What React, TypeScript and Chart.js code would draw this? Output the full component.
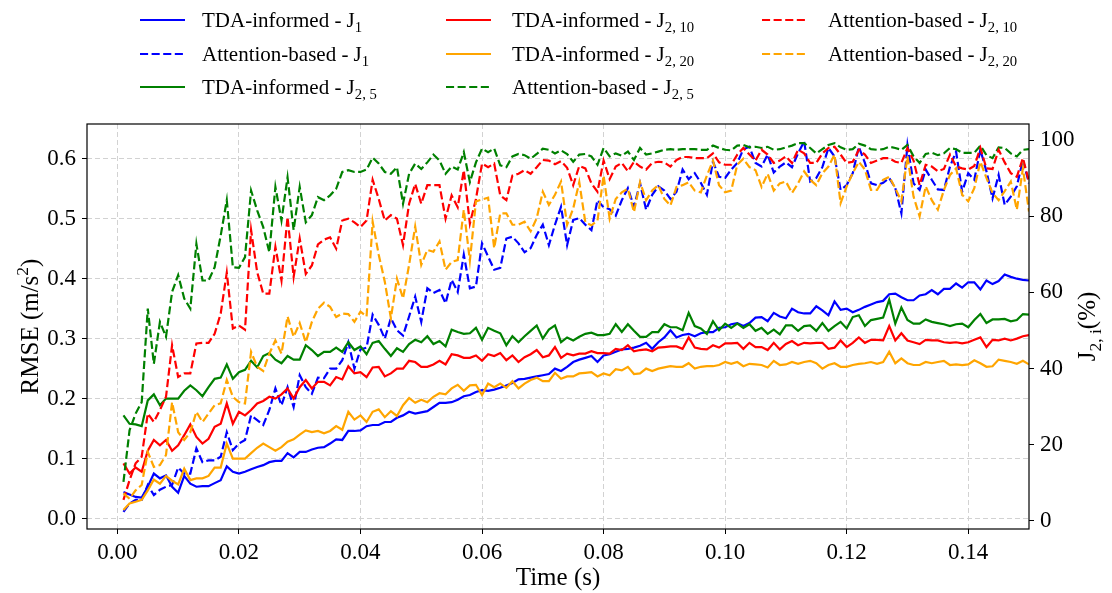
import React, { useEffect, useRef } from "react";
import { Chart, registerables } from "chart.js";

Chart.register(...registerables);

const FONT = '"Liberation Serif", "Times New Roman", serif';

// time axis: one sample per millisecond, 0.001 s … 0.150 s
const TIME_STEP = 0.001;
const N_POINTS = 150;
const TIME = Array.from({ length: N_POINTS }, (_, i) => +((i + 1) * TIME_STEP).toFixed(3));

const X_TICKS = [0, 0.02, 0.04, 0.06, 0.08, 0.1, 0.12, 0.14];
const Y_LEFT_TICKS = [0, 0.1, 0.2, 0.3, 0.4, 0.5, 0.6];
const Y_RIGHT_TICKS = [0, 20, 40, 60, 80, 100];

// RMSE (m/s^2)
const TDA_J1 = [
  0.044, 0.040, 0.036, 0.035, 0.053, 0.075, 0.067, 0.072, 0.053, 0.043, 0.071, 0.058, 0.053, 0.054, 0.054, 0.059, 0.064, 0.087, 0.078, 0.075,
  0.078, 0.082, 0.086, 0.089, 0.094, 0.096, 0.096, 0.109, 0.102, 0.111, 0.111, 0.115, 0.118, 0.119,
  0.125, 0.132, 0.131, 0.146, 0.146, 0.147, 0.154, 0.156, 0.156, 0.161, 0.161, 0.168, 0.172, 0.178, 0.175, 0.177, 0.179, 0.186, 0.193, 0.193,
  0.194, 0.198, 0.204, 0.206, 0.211, 0.214, 0.213, 0.215, 0.218, 0.222, 0.226, 0.232, 0.233, 0.235, 0.237,
  0.239, 0.241, 0.250, 0.246, 0.253, 0.261, 0.265, 0.268, 0.271, 0.261, 0.272, 0.274, 0.278, 0.282, 0.283, 0.285, 0.288, 0.293, 0.283, 0.294,
  0.302, 0.314, 0.302, 0.306, 0.308, 0.304, 0.309, 0.311, 0.311, 0.318, 0.319, 0.324, 0.326, 0.321, 0.326, 0.335, 0.336, 0.329, 0.343,
  0.337, 0.334, 0.350, 0.344, 0.342, 0.342, 0.354, 0.347, 0.339, 0.362, 0.348, 0.350, 0.344, 0.348, 0.353, 0.357, 0.361, 0.363, 0.374, 0.375,
  0.369, 0.364, 0.364, 0.372, 0.374, 0.381, 0.374, 0.383, 0.383, 0.392, 0.385, 0.394, 0.394, 0.382, 0.397, 0.391, 0.396, 0.407, 0.403, 0.400,
  0.398, 0.397,
];

const ATT_J1 = [
  0.011, 0.025, 0.031, 0.031, 0.056, 0.039, 0.048, 0.053, 0.056, 0.085, 0.075, 0.075, 0.117, 0.094, 0.097, 0.097, 0.103, 0.144, 0.114, 0.125,
  0.131, 0.172, 0.164, 0.156, 0.181, 0.217, 0.189, 0.219, 0.186, 0.239, 0.219, 0.208, 0.235, 0.234,
  0.250, 0.250, 0.264, 0.294, 0.250, 0.282,
  0.285, 0.340, 0.323, 0.300, 0.334, 0.314, 0.305, 0.337, 0.370, 0.328, 0.384, 0.376, 0.381, 0.359, 0.398, 0.378, 0.440, 0.384, 0.387, 0.459,
  0.437, 0.415, 0.418, 0.467, 0.470, 0.459, 0.444, 0.451, 0.473, 0.490, 0.456, 0.490, 0.520, 0.456,
  0.498, 0.501, 0.490, 0.481, 0.531, 0.519, 0.516, 0.505, 0.531, 0.551, 0.520, 0.559, 0.515, 0.540, 0.554, 0.547, 0.533, 0.545, 0.582, 0.566,
  0.576, 0.560, 0.540, 0.595, 0.570, 0.568, 0.582, 0.593, 0.616, 0.620, 0.593, 0.587, 0.607, 0.577, 0.587, 0.594, 0.586,
  0.609, 0.629, 0.562, 0.568, 0.586, 0.618, 0.604, 0.548, 0.556, 0.576, 0.620, 0.593, 0.559, 0.556, 0.560, 0.568, 0.551, 0.509, 0.623, 0.559,
  0.548, 0.582, 0.565, 0.549, 0.548, 0.587, 0.612, 0.545, 0.576, 0.565, 0.615, 0.579, 0.534, 0.573, 0.523, 0.537, 0.554, 0.598, 0.559,
];

const TDA_J25 = [
  0.172, 0.158, 0.157, 0.154, 0.197, 0.207, 0.189, 0.200, 0.200, 0.200, 0.213, 0.222, 0.214, 0.204, 0.219, 0.233, 0.235, 0.257, 0.233, 0.244,
  0.248, 0.263, 0.252, 0.271, 0.276, 0.265, 0.259, 0.271, 0.265, 0.265, 0.289, 0.281, 0.271, 0.278,
  0.278, 0.285, 0.278, 0.294, 0.281, 0.287, 0.274, 0.293, 0.296, 0.283, 0.271, 0.284, 0.278, 0.291, 0.298, 0.294, 0.304, 0.291, 0.296, 0.287,
  0.315, 0.311, 0.308, 0.309, 0.318, 0.298, 0.318, 0.313, 0.309, 0.289, 0.304, 0.294, 0.304, 0.313, 0.322,
  0.300, 0.315, 0.322, 0.294, 0.302, 0.297, 0.303, 0.308, 0.310, 0.306, 0.306, 0.308, 0.324, 0.311, 0.324, 0.313, 0.303, 0.303, 0.311, 0.311,
  0.324, 0.319, 0.319, 0.314, 0.343, 0.321, 0.317, 0.308, 0.329, 0.314, 0.325, 0.318, 0.325, 0.318, 0.324, 0.313, 0.318, 0.308, 0.315,
  0.307, 0.322, 0.322, 0.313, 0.321, 0.322, 0.313, 0.326, 0.313, 0.321, 0.328, 0.317, 0.336, 0.339, 0.321, 0.331, 0.333, 0.335, 0.365, 0.325,
  0.352, 0.331, 0.325, 0.325, 0.332, 0.328, 0.326, 0.324, 0.321, 0.324, 0.325, 0.319, 0.331, 0.341, 0.326, 0.332, 0.332, 0.333, 0.329, 0.331,
  0.341, 0.340,
];

const TDA_J210 = [
  0.092, 0.075, 0.085, 0.078, 0.113, 0.131, 0.122, 0.131, 0.113, 0.122, 0.139, 0.157, 0.136, 0.125, 0.133, 0.153, 0.158, 0.192, 0.158, 0.178,
  0.172, 0.181, 0.192, 0.196, 0.203, 0.200, 0.207, 0.217, 0.200, 0.219, 0.231, 0.217, 0.228, 0.228,
  0.222, 0.236, 0.232, 0.254, 0.242, 0.244, 0.236, 0.252, 0.253, 0.237, 0.242, 0.250, 0.250, 0.263, 0.261, 0.253, 0.253, 0.257, 0.263, 0.257,
  0.274, 0.272, 0.268, 0.268, 0.272, 0.263, 0.274, 0.271, 0.276, 0.264, 0.272, 0.261, 0.269, 0.274, 0.281,
  0.269, 0.272, 0.286, 0.268, 0.275, 0.272, 0.275, 0.275, 0.279, 0.276, 0.276, 0.275, 0.283, 0.281, 0.289, 0.279, 0.281, 0.282, 0.279, 0.285,
  0.286, 0.287, 0.287, 0.283, 0.302, 0.285, 0.283, 0.282, 0.289, 0.285, 0.292, 0.292, 0.293, 0.283, 0.293, 0.286, 0.286, 0.281, 0.293,
  0.282, 0.291, 0.296, 0.289, 0.293, 0.292, 0.293, 0.293, 0.283, 0.285, 0.297, 0.286, 0.293, 0.302, 0.293, 0.298, 0.298, 0.297, 0.321, 0.297,
  0.309, 0.297, 0.294, 0.291, 0.298, 0.297, 0.297, 0.294, 0.293, 0.294, 0.292, 0.294, 0.298, 0.302, 0.286, 0.298, 0.297, 0.300, 0.297, 0.300,
  0.304, 0.306,
];

const TDA_J220 = [
  0.014, 0.025, 0.028, 0.031, 0.047, 0.065, 0.058, 0.071, 0.063, 0.057, 0.083, 0.064, 0.067, 0.067, 0.071, 0.085, 0.085, 0.125, 0.100, 0.100,
  0.100, 0.109, 0.118, 0.125, 0.119, 0.113, 0.119, 0.128, 0.132, 0.140, 0.147, 0.144, 0.146, 0.142,
  0.146, 0.154, 0.148, 0.178, 0.165, 0.172, 0.161, 0.178, 0.182, 0.169, 0.179, 0.171, 0.189, 0.201, 0.193, 0.198, 0.194, 0.203, 0.209, 0.207,
  0.217, 0.223, 0.213, 0.222, 0.223, 0.206, 0.225, 0.219, 0.225, 0.218, 0.229, 0.217, 0.225, 0.231, 0.235,
  0.229, 0.229, 0.243, 0.233, 0.237, 0.237, 0.242, 0.243, 0.244, 0.237, 0.242, 0.239, 0.249, 0.247, 0.253, 0.241, 0.242, 0.250, 0.246, 0.250,
  0.252, 0.254, 0.253, 0.253, 0.259, 0.250, 0.253, 0.254, 0.254, 0.256, 0.261, 0.258, 0.261, 0.254, 0.258, 0.257, 0.256, 0.252, 0.263,
  0.256, 0.257, 0.261, 0.258, 0.261, 0.263, 0.259, 0.250, 0.256, 0.259, 0.253, 0.253, 0.256, 0.258, 0.259, 0.261, 0.258, 0.261, 0.278, 0.259,
  0.267, 0.259, 0.256, 0.256, 0.261, 0.259, 0.261, 0.263, 0.256, 0.257, 0.256, 0.257, 0.264, 0.259, 0.253, 0.254, 0.265, 0.263, 0.261, 0.258,
  0.263, 0.257,
];

const ATT_J25 = [
  0.061, 0.147, 0.175, 0.194, 0.350, 0.258, 0.328, 0.303, 0.378, 0.406, 0.367, 0.350, 0.458, 0.397, 0.397, 0.419, 0.472, 0.531, 0.419, 0.418,
  0.436, 0.547, 0.514, 0.486, 0.444, 0.553, 0.497, 0.569, 0.481, 0.553, 0.494, 0.506, 0.536, 0.531,
  0.539, 0.550, 0.578, 0.581, 0.578, 0.578, 0.582, 0.602, 0.592, 0.578, 0.575, 0.586, 0.525, 0.575, 0.592, 0.583, 0.594, 0.607, 0.597, 0.575,
  0.587, 0.582, 0.611, 0.561, 0.594, 0.617, 0.611, 0.617, 0.589, 0.586, 0.604, 0.608, 0.606, 0.600, 0.608,
  0.617, 0.615, 0.609,
  0.614, 0.608, 0.595, 0.607, 0.608, 0.604, 0.590, 0.618, 0.604, 0.609, 0.605, 0.612, 0.598, 0.618, 0.607, 0.609, 0.612, 0.615, 0.616, 0.615,
  0.616, 0.616, 0.616, 0.615, 0.615, 0.622, 0.618, 0.615, 0.614, 0.622, 0.623, 0.619, 0.620, 0.618, 0.620, 0.615, 0.616, 0.619, 0.622,
  0.626, 0.626, 0.618, 0.609, 0.616, 0.623, 0.626, 0.619, 0.615, 0.616, 0.625, 0.622, 0.616, 0.615, 0.616, 0.620, 0.618, 0.615, 0.623, 0.604,
  0.593, 0.608, 0.610, 0.606, 0.609, 0.618, 0.616, 0.610, 0.610, 0.610, 0.622, 0.606, 0.601, 0.619, 0.618, 0.609, 0.604, 0.615, 0.616,
];

const ATT_J210 = [
  0.031, 0.064, 0.092, 0.103, 0.175, 0.161, 0.181, 0.203, 0.289, 0.236, 0.242, 0.242, 0.292, 0.293, 0.293, 0.308, 0.342, 0.410, 0.317, 0.322,
  0.315, 0.481, 0.411, 0.375, 0.375, 0.453, 0.397, 0.503, 0.403, 0.467, 0.408, 0.422, 0.457, 0.465,
  0.469, 0.450, 0.497, 0.500, 0.494, 0.486, 0.497, 0.565, 0.533, 0.497, 0.506, 0.500, 0.456, 0.525, 0.558, 0.525, 0.556, 0.556, 0.556, 0.500,
  0.539, 0.519, 0.581, 0.492, 0.533, 0.592, 0.586, 0.592, 0.539, 0.531, 0.572, 0.575, 0.581, 0.575, 0.586,
  0.598, 0.597, 0.591, 0.596, 0.585,
  0.556, 0.588, 0.584, 0.559, 0.545, 0.597, 0.566, 0.587, 0.593, 0.579, 0.595, 0.587, 0.582, 0.593, 0.595, 0.594, 0.587, 0.598, 0.603, 0.603,
  0.601, 0.601, 0.601, 0.609, 0.594, 0.590, 0.590, 0.607, 0.618, 0.607, 0.597, 0.615, 0.607, 0.593, 0.597, 0.604, 0.593,
  0.615, 0.609, 0.593, 0.593, 0.609, 0.618, 0.620, 0.607, 0.593, 0.595, 0.615, 0.607, 0.593, 0.597, 0.601, 0.601, 0.595, 0.593, 0.618, 0.597,
  0.556, 0.590, 0.587, 0.579, 0.583, 0.607, 0.587, 0.584, 0.582, 0.588, 0.618, 0.584, 0.583, 0.615, 0.594, 0.576, 0.570, 0.601, 0.562,
];

const ATT_J220 = [
  0.042, 0.033, 0.047, 0.056, 0.111, 0.086, 0.089, 0.106, 0.194, 0.144, 0.131, 0.144, 0.178, 0.161, 0.175, 0.189, 0.192, 0.231, 0.203, 0.194,
  0.192, 0.278, 0.253, 0.246, 0.275, 0.297, 0.275, 0.337, 0.303, 0.326, 0.294, 0.328, 0.350, 0.360,
  0.353, 0.336, 0.342, 0.341, 0.328, 0.345, 0.337,
  0.495, 0.440, 0.395, 0.334, 0.400, 0.367, 0.423, 0.487, 0.423, 0.448, 0.445, 0.462, 0.415, 0.428, 0.431, 0.515, 0.430, 0.529, 0.532, 0.535,
  0.451, 0.509, 0.509, 0.490, 0.490, 0.495, 0.479, 0.501, 0.545, 0.523, 0.540, 0.562, 0.490,
  0.517, 0.561, 0.494, 0.489, 0.497, 0.572, 0.500, 0.533, 0.544, 0.550, 0.511, 0.561, 0.531, 0.547, 0.556, 0.533, 0.522, 0.553, 0.556, 0.561,
  0.547, 0.544, 0.572, 0.597, 0.556, 0.544, 0.547, 0.590, 0.600, 0.586, 0.581, 0.553, 0.575, 0.547,
  0.559, 0.562, 0.543,
  0.559, 0.579, 0.565, 0.556, 0.576, 0.587, 0.607, 0.526, 0.554, 0.576, 0.595, 0.582, 0.548, 0.548, 0.565, 0.570, 0.551, 0.529, 0.604, 0.537,
  0.504, 0.554, 0.531, 0.515, 0.548, 0.573, 0.584, 0.540, 0.529, 0.551, 0.595, 0.568, 0.543, 0.531, 0.546, 0.562, 0.515, 0.584, 0.512,
];

type Item = { main: string; sub: string; color: string; dashed: boolean; data: number[] };

// legend order (matplotlib ncol=3, column-major)
const SERIES: Item[] = [
  { main: "TDA-informed - J", sub: "1", color: "#0000ff", dashed: false, data: TDA_J1 },
  { main: "Attention-based - J", sub: "1", color: "#0000ff", dashed: true, data: ATT_J1 },
  { main: "TDA-informed - J", sub: "2, 5", color: "#008000", dashed: false, data: TDA_J25 },
  { main: "TDA-informed - J", sub: "2, 10", color: "#ff0000", dashed: false, data: TDA_J210 },
  { main: "TDA-informed - J", sub: "2, 20", color: "#ffa500", dashed: false, data: TDA_J220 },
  { main: "Attention-based - J", sub: "2, 5", color: "#008000", dashed: true, data: ATT_J25 },
  { main: "Attention-based - J", sub: "2, 10", color: "#ff0000", dashed: true, data: ATT_J210 },
  { main: "Attention-based - J", sub: "2, 20", color: "#ffa500", dashed: true, data: ATT_J220 },
];

const LINE_W = 2.2;
const DASH = [8.1, 3.5];
const GRID_COLOR = "#d2d2d2";
const GRID_DASH = [5, 3];

type Part = { t: string; k: "n" | "sub" | "sup" };

function richWidth(ctx: CanvasRenderingContext2D, parts: Part[], size: number) {
  let w = 0;
  for (const p of parts) {
    ctx.font = `${p.k === "n" ? size : size * 0.7}px ${FONT}`;
    w += ctx.measureText(p.t).width;
  }
  return w;
}

function drawRich(ctx: CanvasRenderingContext2D, parts: Part[], x: number, y: number, size: number, align: "left" | "center") {
  ctx.textBaseline = "alphabetic";
  ctx.textAlign = "left";
  let cx = align === "center" ? x - richWidth(ctx, parts, size) / 2 : x;
  for (const p of parts) {
    ctx.font = `${p.k === "n" ? size : size * 0.7}px ${FONT}`;
    const dy = p.k === "sub" ? size * 0.24 : p.k === "sup" ? -size * 0.42 : 0;
    ctx.fillText(p.t, cx, y + dy);
    cx += ctx.measureText(p.t).width;
  }
}

const LEGEND_COLS = [
  { lineX: 140, textX: 202 },
  { lineX: 446, textX: 512 },
  { lineX: 762, textX: 828 },
];
const LEGEND_ROWS = [20, 54, 87];

const decorPlugin = {
  id: "decor",
  afterDraw(chart: any) {
    const ctx: CanvasRenderingContext2D = chart.ctx;
    const a = chart.chartArea;
    ctx.save();
    // frame
    ctx.strokeStyle = "#000";
    ctx.lineWidth = 1.2;
    ctx.setLineDash([]);
    ctx.strokeRect(a.left, a.top, a.right - a.left, a.bottom - a.top);

    // legend
    SERIES.forEach((s, i) => {
      const col = Math.floor(i / 3);
      const row = i % 3;
      const { lineX, textX } = LEGEND_COLS[col];
      const y = LEGEND_ROWS[row];
      ctx.strokeStyle = s.color;
      ctx.lineWidth = LINE_W;
      ctx.setLineDash(s.dashed ? DASH : []);
      ctx.beginPath();
      ctx.moveTo(lineX, y);
      ctx.lineTo(lineX + 45, y);
      ctx.stroke();
      ctx.setLineDash([]);
      ctx.fillStyle = "#000";
      drawRich(ctx, [{ t: s.main, k: "n" }, { t: s.sub, k: "sub" }], textX, y + 7, 21, "left");
    });

    // axis titles
    ctx.fillStyle = "#000";
    ctx.save();
    ctx.translate(38, (a.top + a.bottom) / 2);
    ctx.rotate(-Math.PI / 2);
    drawRich(ctx, [{ t: "RMSE (m/s", k: "n" }, { t: "2", k: "sup" }, { t: ")", k: "n" }], 0, 0, 25, "center");
    ctx.restore();

    ctx.save();
    ctx.translate(1095, (a.top + a.bottom) / 2);
    ctx.rotate(-Math.PI / 2);
    drawRich(ctx, [{ t: "J", k: "n" }, { t: "2, i", k: "sub" }, { t: "(%)", k: "n" }], 0, 0, 25, "center");
    ctx.restore();

    ctx.font = `25px ${FONT}`;
    ctx.textAlign = "center";
    ctx.textBaseline = "alphabetic";
    ctx.fillText("Time (s)", (a.left + a.right) / 2, 585);
    ctx.restore();
  },
};

export default function App() {
  const ref = useRef<HTMLCanvasElement | null>(null);

  useEffect(() => {
    if (!ref.current) return;
    const tickFont = { family: FONT, size: 23 };
    const chart = new Chart(ref.current, {
      type: "line",
      data: {
        datasets: SERIES.map((s, i) => ({
          label: s.main + s.sub,
          data: s.data.map((v, j) => ({ x: TIME[j], y: v })),
          borderColor: s.color,
          backgroundColor: s.color,
          borderWidth: LINE_W,
          borderDash: s.dashed ? DASH : [],
          pointRadius: 0,
          tension: 0,
          fill: false,
          yAxisID: "y",
          order: SERIES.length - i,
        })),
      },
      options: {
        responsive: false,
        animation: false,
        devicePixelRatio: 1,
        layout: { padding: { top: 124, left: 0, right: 0, bottom: 0 } },
        plugins: { legend: { display: false }, tooltip: { enabled: false }, title: { display: false } },
        scales: {
          x: {
            type: "linear",
            min: -0.005,
            max: 0.15,
            afterFit: (s: any) => { s.height = 64; },
            afterBuildTicks: (s: any) => { s.ticks = X_TICKS.map((v) => ({ value: v })); },
            ticks: {
              callback: (v: any) => Number(v).toFixed(2),
              font: tickFont,
              color: "#000",
              padding: 5,
              maxRotation: 0,
              autoSkip: false,
            },
            grid: { color: GRID_COLOR, lineWidth: 1, tickColor: "#000", tickLength: 5, tickWidth: 1 },
            border: { display: false, dash: GRID_DASH },
          },
          y: {
            position: "left",
            min: -0.0175,
            max: 0.658,
            afterFit: (s: any) => { s.width = 87; },
            afterBuildTicks: (s: any) => { s.ticks = Y_LEFT_TICKS.map((v) => ({ value: v })); },
            ticks: {
              callback: (v: any) => Number(v).toFixed(1),
              font: tickFont,
              color: "#000",
              padding: 6,
              autoSkip: false,
            },
            grid: { color: GRID_COLOR, lineWidth: 1, tickColor: "#000", tickLength: 5, tickWidth: 1 },
            border: { display: false, dash: GRID_DASH },
          },
          y2: {
            position: "right",
            min: -2.1,
            max: 104.2,
            afterFit: (s: any) => { s.width = 83; },
            afterBuildTicks: (s: any) => { s.ticks = Y_RIGHT_TICKS.map((v) => ({ value: v })); },
            ticks: {
              callback: (v: any) => String(v),
              font: tickFont,
              color: "#000",
              padding: 6,
              autoSkip: false,
            },
            grid: { drawOnChartArea: false, tickColor: "#000", tickLength: 5, tickWidth: 1 },
            border: { display: false },
          },
        },
      },
      plugins: [decorPlugin],
    } as any);
    return () => chart.destroy();
  }, []);

  return (
    <div style={{ position: "absolute", left: 0, top: 0, width: 1112, height: 593, background: "#fff" }}>
      <canvas ref={ref} width={1112} height={593} style={{ display: "block" }} />
    </div>
  );
}
